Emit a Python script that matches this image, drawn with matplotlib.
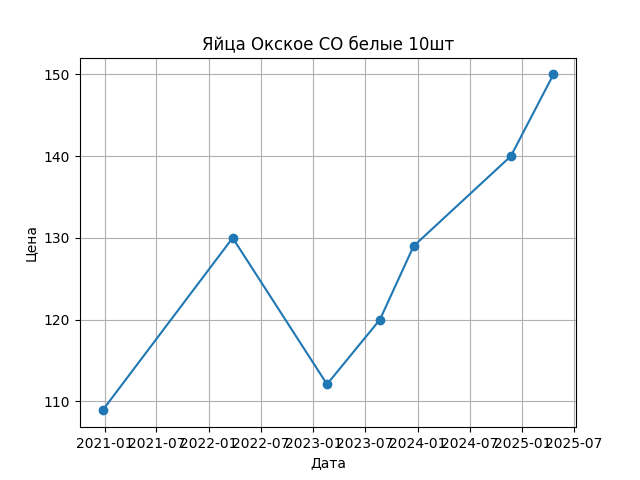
import matplotlib
matplotlib.use("Agg")
import matplotlib.pyplot as plt
import pandas as pd

dates = ["2020-12-25", "2022-03-25", "2023-02-18", "2023-08-22", "2023-12-18", "2024-11-22", "2025-04-20"]
prices = [108.9, 130, 112.1, 120, 129, 140, 150]

fig, ax = plt.subplots(figsize=(6.4, 4.8), dpi=100)
ax.plot(pd.to_datetime(dates), prices, marker="o")
ax.set_title("Яйца Окское СО белые 10шт")
ax.set_xlabel("Дата")
ax.set_ylabel("Цена")
ax.grid(True)
fig.savefig("out.png")
